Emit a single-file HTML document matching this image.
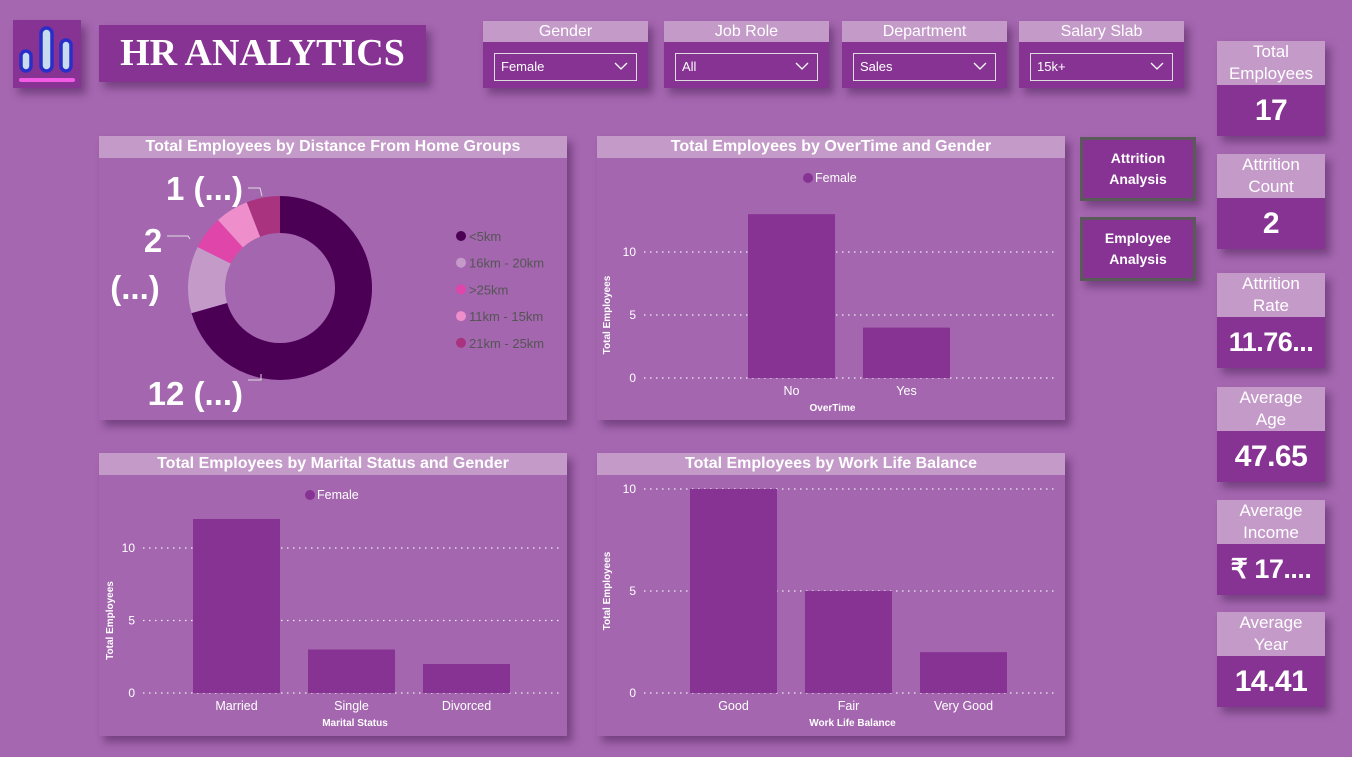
<!DOCTYPE html>
<html><head><meta charset="utf-8">
<style>
*{margin:0;padding:0;box-sizing:border-box}
body{width:1352px;height:757px;background:#a567b0;position:relative;overflow:hidden;font-family:"Liberation Sans",sans-serif;color:#fff}
.abs{position:absolute}
.shadow{box-shadow:5px 6px 8px rgba(60,20,70,0.45)}
.dark{background:#873393}
.light{background:#c49ac9}
.slicer .hd{height:21px;font-size:16px;text-align:center;line-height:21px}
.slicer .dd{position:absolute;left:11px;right:11px;top:32px;height:28px;border:1.5px solid #ddd;font-size:13px;line-height:26px;padding-left:6px}
.slicer .dd svg{position:absolute;right:8px;top:8px}
.panel{background:#a466af}
.panel svg{position:absolute;left:0;top:0}
.ptitle{position:absolute;left:0;top:0;width:100%;height:22px;line-height:22px;text-align:center;font-size:16px;font-weight:bold;background:#c49ac9}
.btn{border:3px solid #5a5a5a;background:#873393;font-weight:bold;font-size:14px;text-align:center;display:flex;align-items:center;justify-content:center;line-height:21px}
.kh{font-size:17px;text-align:center;line-height:22px;padding-top:0px}
.kv{font-size:30px;font-weight:bold;text-align:center;display:flex;align-items:center;justify-content:center;white-space:nowrap;letter-spacing:-0.5px}
text{font-family:"Liberation Sans",sans-serif}
</style></head><body>
<div class="abs dark shadow" style="left:13px;top:20px;width:68px;height:68px">
<svg width="68" height="68"><g fill="#c8dcf0" stroke="#2a2ec8" stroke-width="3.5"><rect x="8" y="31" width="10" height="20" rx="5"/><rect x="28" y="8" width="11" height="43" rx="5.5"/><rect x="48" y="20" width="10" height="31" rx="5"/></g><rect x="6" y="58" width="56" height="4" rx="2" fill="#f25ae6"/></svg></div>
<div class="abs dark shadow" style="left:99px;top:25px;width:327px;height:57px;font-family:'Liberation Serif',serif;font-weight:bold;font-size:38px;text-align:center;line-height:57px">HR ANALYTICS</div>

<div class="abs slicer dark shadow" style="left:483px;top:21px;width:165px;height:67px"><div class="hd light">Gender</div><div class="dd">Female<svg width="14" height="9"><path d="M1 1L7 7L13 1" stroke="#fff" fill="none" stroke-width="1.3"/></svg></div></div>
<div class="abs slicer dark shadow" style="left:664px;top:21px;width:165px;height:67px"><div class="hd light">Job Role</div><div class="dd">All<svg width="14" height="9"><path d="M1 1L7 7L13 1" stroke="#fff" fill="none" stroke-width="1.3"/></svg></div></div>
<div class="abs slicer dark shadow" style="left:842px;top:21px;width:165px;height:67px"><div class="hd light">Department</div><div class="dd">Sales<svg width="14" height="9"><path d="M1 1L7 7L13 1" stroke="#fff" fill="none" stroke-width="1.3"/></svg></div></div>
<div class="abs slicer dark shadow" style="left:1019px;top:21px;width:165px;height:67px"><div class="hd light">Salary Slab</div><div class="dd">15k+<svg width="14" height="9"><path d="M1 1L7 7L13 1" stroke="#fff" fill="none" stroke-width="1.3"/></svg></div></div>

<div class="abs btn shadow" style="left:1080px;top:137px;width:116px;height:64px">Attrition<br>Analysis</div>
<div class="abs btn shadow" style="left:1080px;top:217px;width:116px;height:64px">Employee<br>Analysis</div>

<div id="kpis"></div>

<div class="abs panel shadow" style="left:99px;top:136px;width:468px;height:284px"><svg id="donut" width="468" height="284"></svg><div class="ptitle">Total Employees by Distance From Home Groups</div></div>
<div class="abs panel shadow" style="left:597px;top:136px;width:468px;height:284px"><svg id="ot" width="468" height="284"></svg><div class="ptitle">Total Employees by OverTime and Gender</div></div>
<div class="abs panel shadow" style="left:99px;top:453px;width:468px;height:283px"><svg id="ms" width="468" height="283"></svg><div class="ptitle">Total Employees by Marital Status and Gender</div></div>
<div class="abs panel shadow" style="left:597px;top:453px;width:468px;height:283px"><svg id="wlb" width="468" height="283"></svg><div class="ptitle">Total Employees by Work Life Balance</div></div>

<script>
const kpiLabels=[["Total","Employees"],["Attrition","Count"],["Attrition","Rate"],["Average","Age"],["Average","Income"],["Average","Year"]];
const kpiValues=["17","2","11.76...","47.65","₹ 17....","14.41"];
const kpiTops=[41,154,273,387,500,612];
const kpiNames=["total-employees","attrition-count","attrition-rate","average-age","average-income","average-year"];
const kp=document.getElementById('kpis');
kpiLabels.forEach((l,i)=>{
  const c=document.createElement('div');
  c.className='abs shadow';
  c.style.cssText=`left:1217px;top:${kpiTops[i]}px;width:108px;height:95px`;
  
  
  c.innerHTML=`<div class="kh light" style="height:44px">${l[0]}<br>${l[1]}</div><div class="kv dark" style="height:51px;font-size:${kpiValues[i].length>6?27:30}px">${kpiValues[i]}</div>`;
  kp.appendChild(c);
});
const NS='http://www.w3.org/2000/svg';
function el(p,t,a,txt){const e=document.createElementNS(NS,t);for(const k in a)e.setAttribute(k,a[k]);if(txt!==undefined)e.textContent=txt;p.appendChild(e);return e;}

const distCats=["<5km","16km - 20km",">25km","11km - 15km","21km - 25km"];
const distVals=[12,2,1,1,1];
const distColors=["#4b0055","#c49ac9","#e045aa","#ee8fcc","#a9337f"];
(function(){
  const s=document.getElementById('donut');
  const cx=181,cy=152,R=92,r=55;
  const tot=distVals.reduce((a,b)=>a+b,0);
  let a0=0;
  distVals.forEach((v,i)=>{
    const a1=a0+v/tot*2*Math.PI;
    const p=(a,rr)=>[cx+rr*Math.sin(a),cy-rr*Math.cos(a)];
    const [x1,y1]=p(a0,R),[x2,y2]=p(a1,R),[x3,y3]=p(a1,r),[x4,y4]=p(a0,r);
    const lg=(a1-a0)>Math.PI?1:0;
    const sl=el(s,'path',{d:`M${x1},${y1}A${R},${R} 0 ${lg} 1 ${x2},${y2}L${x3},${y3}A${r},${r} 0 ${lg} 0 ${x4},${y4}Z`,fill:distColors[i]});
    
    
    a0=a1;
  });
  const lab={fill:'#fff','font-size':33,'font-weight':'bold'};
  el(s,'text',Object.assign({x:144,y:269},lab,{'text-anchor':'end'}),distVals[0]+" (...)");
  el(s,'text',Object.assign({x:54,y:116},lab,{'text-anchor':'middle'}),distVals[1]+"");
  el(s,'text',Object.assign({x:36,y:163},lab,{'text-anchor':'middle'}),"(...)");
  el(s,'text',Object.assign({x:144,y:64},lab,{'text-anchor':'end'}),distVals[4]+" (...)");
  el(s,'path',{d:'M149,52H161L163,60',stroke:'#ddd',fill:'none'});
  el(s,'path',{d:'M68,100H89L91,103',stroke:'#ddd',fill:'none'});
  el(s,'path',{d:'M149,244H162L162,238',stroke:'#ddd',fill:'none'});
  distCats.forEach((c,i)=>{
    const y=100+i*26.7;
    el(s,'circle',{cx:362,cy:y,r:5,fill:distColors[i]});
    el(s,'text',{x:370,y:y+5,fill:'#555','font-size':13},c);
  });
})();

function bar(id,cats,vals,ticks,o){
  const s=document.getElementById(id);
  const ys=v=>o.y0-(o.y0-o.y10)*v/10;
  ticks.forEach(t=>{
    el(s,'line',{x1:o.gx1,x2:o.gx2,y1:ys(t),y2:ys(t),stroke:'#eee','stroke-dasharray':'1.5 4.5','stroke-width':1.2});
    el(s,'text',{x:o.gx1-8,y:ys(t)+4,fill:'#fff','font-size':12,'text-anchor':'end'},t);
  });
  cats.forEach((c,i)=>{
    const x=o.bx+i*o.step;
    const b=el(s,'rect',{x:x,y:ys(vals[i]),width:o.bw,height:o.y0-ys(vals[i]),fill:'#873393'});
    
    
    el(s,'text',{x:x+o.bw/2,y:o.y0+17,fill:'#fff','font-size':12.5,'text-anchor':'middle'},c);
  });
  el(s,'text',{x:(o.gx1+o.gx2)/2+o.xtoff,y:o.y0+33,fill:'#fff','font-size':10,'font-weight':'bold','text-anchor':'middle'},o.xt);
  el(s,'text',{transform:`translate(${o.ytx},${(o.y0+o.y10)/2}) rotate(-90)`,fill:'#fff','font-size':10,'font-weight':'bold','text-anchor':'middle'},'Total Employees');
  if(o.leg){el(s,'circle',{cx:o.leg[0],cy:o.leg[1],r:5,fill:'#873393'});el(s,'text',{x:o.leg[0]+7,y:o.leg[1]+4,fill:'#fff','font-size':12.5},'Female');}
}
const otCats=["No","Yes"], otVals=[13,4], otTicks=[0,5,10];
bar('ot',otCats,otVals,otTicks,{y0:242,y10:116,gx1:47,gx2:460,bx:151,bw:87,step:115,xt:'OverTime',xtoff:-18,ytx:13,leg:[211,42]});
const msCats=["Married","Single","Divorced"], msVals=[12,3,2], msTicks=[0,5,10];
bar('ms',msCats,msVals,msTicks,{y0:240,y10:95,gx1:44,gx2:460,bx:94,bw:87,step:115,xt:'Marital Status',xtoff:4,ytx:14,leg:[211,42]});
const wlbCats=["Good","Fair","Very Good"], wlbVals=[10,5,2], wlbTicks=[0,5,10];
bar('wlb',wlbCats,wlbVals,wlbTicks,{y0:240,y10:36,gx1:47,gx2:460,bx:93,bw:87,step:115,xt:'Work Life Balance',xtoff:2,ytx:13,leg:null});
</script>
</body></html>
